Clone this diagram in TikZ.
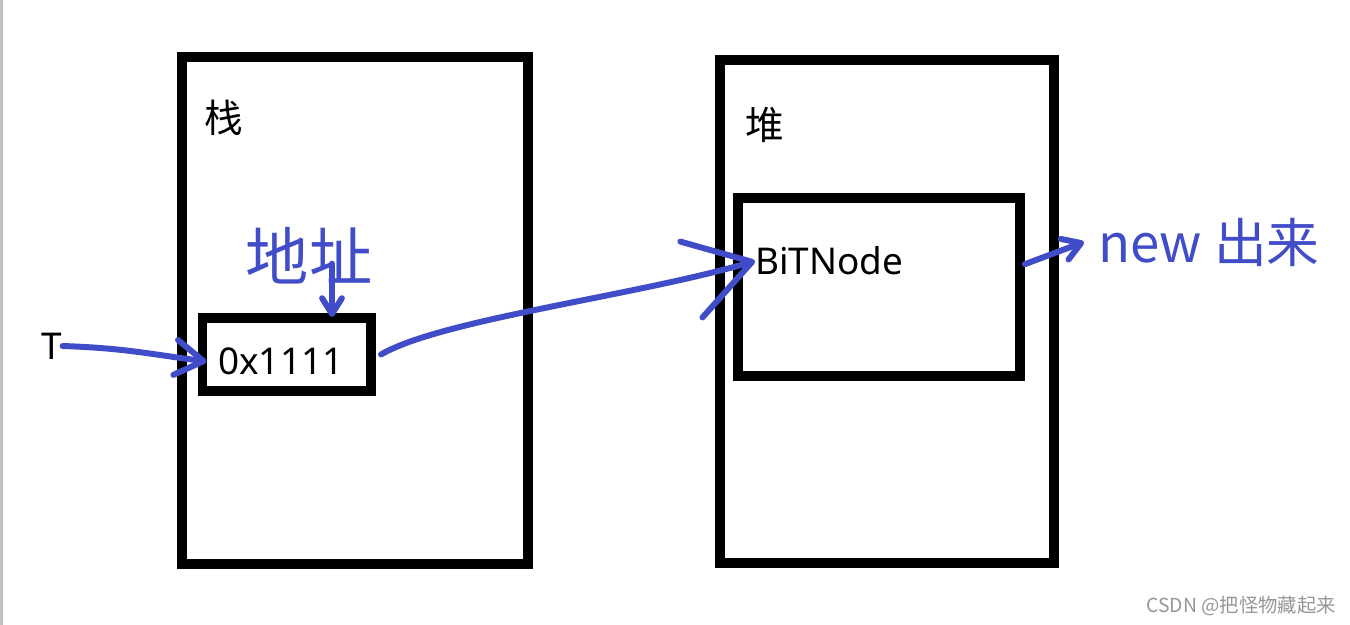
\documentclass[tikz,border=0pt]{standalone}
\usepackage{fontspec}
\setmainfont{Noto Sans}
\newfontfamily\cjk{Noto Sans CJK SC}
\usetikzlibrary{arrows.meta,positioning}
\definecolor{pen}{RGB}{64,76,200}
\definecolor{mark}{RGB}{150,150,150}

\begin{document}
\begin{tikzpicture}[x=0.02cm, y=-0.02cm, every node/.style={inner sep=0pt, font=\fontsize{21}{25}\selectfont}]
  \tikzset{frame/.style={rectangle, draw=black, line width=5.67pt}, cell/.style={rectangle, draw=black, line width=5.4pt},
    hand/.style={draw=pen, line width=3.4pt, line cap=round, line join=round}, ink/.style={text=pen, font=\cjk\fontsize{36}{40}\selectfont},
    head/.style={-{Straight Barb[length=#1, width=1.25*#1, round]}}}
  \useasboundingbox (0,0) rectangle (1350,625);
  \fill[black!25] (0,0) rectangle (3,625);
  % stack and heap
  \node[frame, minimum width=6.92cm, minimum height=10.14cm] (stack) at (355,310.5) {};
  \node[frame, minimum width=6.68cm, minimum height=10.06cm] (heap) at (887,311.5) {};
  \node[font=\cjk\fontsize{22}{26}\selectfont] (zhan) at (224,118) {栈};
  \node[font=\cjk\fontsize{22}{26}\selectfont] (dui) at (765,125) {堆};
  \node[cell, minimum width=3.37cm, minimum height=1.46cm] (ptr) at (286.75,354.5) {};
  \node[frame, minimum width=5.64cm, minimum height=3.56cm] (obj) at (879,287) {};
  \node[anchor=west] (addr) at (218,361) {0x1111};
  \node[anchor=west] (bitnode) at (755,261) {BiTNode};
  \node (tname) at (52,346) {T};
  % handwritten notes
  \node[ink] (dizhi) at (309,256) {地址};
  \node[ink, anchor=west, font=\cjk\fontsize{30}{34}\selectfont] (newlbl) at (1098,242) {new 出来};
  \coordinate (dz) at (332,317);
  \draw[hand, head=16pt] (tname.east) .. controls +(60,2) and +(-60,-8) .. ([xshift=5pt, yshift=-4pt]ptr.west);
  \draw[hand, head=9pt] ([yshift=12pt]dizhi.south -| dz) -- (dz);
  \draw[hand, head=36pt] ([xshift=3pt]ptr.east) .. controls +(60,-35) and +(-120,35) .. (bitnode.west);
  \draw[hand, head=10pt] ([yshift=13pt]obj.east) -- ([xshift=-8pt]newlbl.west);
  \node[anchor=east, text=mark, font=\cjk\fontsize{11}{13}\selectfont] (csdn) at (1336,606) {CSDN @把怪物藏起来};
\end{tikzpicture}
\end{document}
